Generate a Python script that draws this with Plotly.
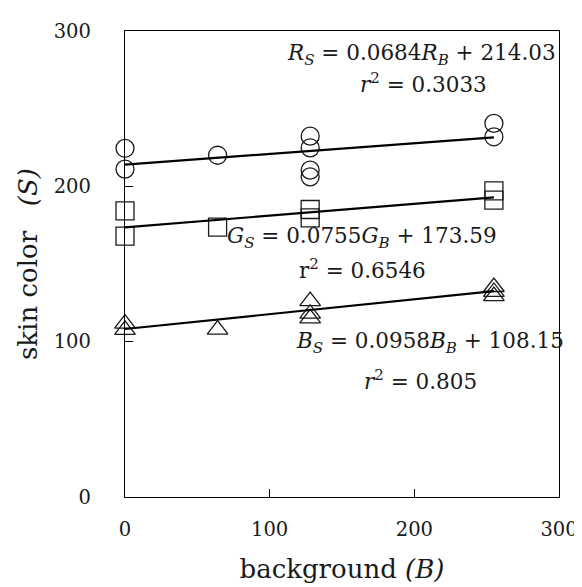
import plotly.graph_objects as go

# ---- data ----
R_x = [0, 0, 64, 128, 128, 128, 128, 255, 255]
R_y = [224.5, 211.1, 220.0, 232.3, 224.8, 210.4, 206.1, 240.5, 231.9]
G_x = [0, 0, 64, 128, 128, 255, 255]
G_y = [184.2, 167.9, 173.7, 185.1, 179.7, 197.1, 191.1]
B_x = [0, 0, 64, 128, 128, 128, 255, 255, 255]
B_y = [111.6, 107.6, 107.8, 126.1, 118.0, 115.0, 135.2, 132.0, 129.3]

slopes = [0.0684, 0.0755, 0.0958]
intercepts = [214.03, 173.59, 108.15]
r2_values = ["0.3033", "0.6546", "0.805"]
tick_vals = [0, 100, 200, 300]

FONT = "DejaVu Serif"
INK = "#1a1a1a"

fig = go.Figure()

series = [
    (R_x, R_y, "circle-open", 18),
    (G_x, G_y, "square-open", 18),
    (B_x, B_y, "triangle-up-open", 18),
]
for xs, ys, sym, sz in series:
    fig.add_trace(go.Scatter(
        x=xs, y=ys, mode="markers",
        marker=dict(symbol=sym, size=sz, color=INK, line=dict(width=1.3, color=INK)),
        showlegend=False, hoverinfo="skip", cliponaxis=False,
    ))

for (xs, ys, _, _), m, b in zip(series, slopes, intercepts):
    x0, x1 = min(xs), max(xs)
    fig.add_trace(go.Scatter(
        x=[x0, x1], y=[b + m * x0, b + m * x1], mode="lines",
        line=dict(color="black", width=2.2),
        showlegend=False, hoverinfo="skip",
    ))

ann_font = dict(family=FONT, size=21.5, color=INK)
annots = [
    (205, 285, "<i>R</i><sub><i>S</i></sub> = 0.0684<i>R</i><sub><i>B</i></sub> + 214.03"),
    (206, 266.5, "<i>r</i><sup>2</sup> = " + r2_values[0]),
    (164, 167.2, "<i>G</i><sub><i>S</i></sub> = 0.0755<i>G</i><sub><i>B</i></sub> + 173.59"),
    (164, 146.5, "r<sup>2</sup> = " + r2_values[1]),
    (211, 99.5, "<i>B</i><sub><i>S</i></sub> = 0.0958<i>B</i><sub><i>B</i></sub> + 108.15"),
    (204.5, 75.5, "<i>r</i><sup>2</sup> = " + r2_values[2]),
]
for ax_, ay_, txt in annots:
    fig.add_annotation(x=ax_, y=ay_, xref="x", yref="y", text=txt, showarrow=False,
                       font=ann_font, xanchor="center", yanchor="middle")

axis_common = dict(
    range=[0, 300], tickvals=tick_vals, ticks="inside", ticklen=8, tickwidth=1,
    tickcolor="black", showline=True, linecolor="black", linewidth=1.3, mirror=True,
    showgrid=False, zeroline=False,
    tickfont=dict(family=FONT, size=19.5, color=INK),
)

fig.update_layout(
    width=582, height=587,
    margin=dict(l=117, r=19, t=23, b=98),
    paper_bgcolor="white", plot_bgcolor="white",
    xaxis=dict(**axis_common, ticklabelstandoff=14,
               title=dict(text="background <i>(B)</i>", font=dict(family=FONT, size=26, color=INK), standoff=20)),
    yaxis=dict(**axis_common, ticklabelstandoff=29,
               title=dict(text="skin color\u00a0\u00a0\u00a0<i>(S)</i>", font=dict(family=FONT, size=26, color=INK), standoff=8)),
)

fig.write_html("out.html")
